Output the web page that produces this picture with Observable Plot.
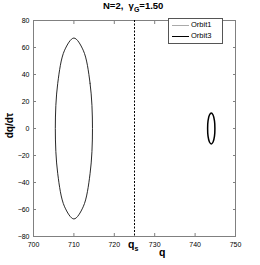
<!DOCTYPE html>
<html><head><meta charset="utf-8">
<script src="https://cdn.jsdelivr.net/npm/d3@7"></script>
<script src="https://cdn.jsdelivr.net/npm/@observablehq/plot@0.6"></script>
<style>
body{margin:0;background:#fff;font-family:"Liberation Sans",Arial,sans-serif;}
#wrap{position:relative;width:260px;height:265px;overflow:hidden;}
.lbl{position:absolute;font-weight:bold;color:#000;white-space:nowrap;}
#legend{position:absolute;left:168px;top:18px;width:53px;height:24px;border:1px solid #555;background:#fff;font-size:7.5px;color:#000;}
#legend div{position:absolute;left:3px;height:10px;line-height:10px;}
#legend span.ln{display:inline-block;width:17px;height:0;vertical-align:middle;margin-right:2px;}
</style></head>
<body><div id="wrap"></div>
<script>
const xTicks = [700, 710, 720, 730, 740, 750];
const yTicks = [-80, -60, -40, -20, 0, 20, 40, 60, 80];
const qs = 725;
// Orbit points: [q, dq/dtau]
const orbitLarge = [[714.6,0],[714.0,33.5],[712.3,58],[710,67],[707.7,58],[706.0,33.5],[705.4,0],[706.0,-33.5],[707.7,-58],[710,-67],[712.3,-58],[714.0,-33.5]];
const orbitSmall = [[744.9,0],[744.8,5.7],[744.45,10],[744,11.5],[743.55,10],[743.2,5.7],[743.1,0],[743.2,-5.7],[743.55,-10],[744,-11.5],[744.45,-10],[744.8,-5.7]];
const series = ["Orbit1", "Orbit3"];

const toObj = a => a.map(([q, v]) => ({q, v}));
const L = toObj(orbitLarge), S = toObj(orbitSmall);

const chart = Plot.plot({
  width: 260, height: 265,
  marginLeft: 33, marginRight: 25, marginTop: 20, marginBottom: 29,
  style: {fontFamily: "Liberation Sans, Arial, sans-serif", fontSize: "7px", background: "#fff", color: "#000"},
  x: {domain: [700, 750], ticks: xTicks},
  y: {domain: [-80, 80], ticks: yTicks},
  marks: [
    Plot.frame({stroke: "#808080"}),
    Plot.axisX({anchor: "bottom", ticks: xTicks, tickSize: -3, tickPadding: 9, stroke: "#808080", label: null, fill: "#000"}),
    Plot.axisX({anchor: "top", ticks: xTicks, tickSize: -3, tickFormat: () => "", stroke: "#808080", label: null}),
    Plot.axisY({anchor: "left", ticks: yTicks, tickSize: -3, tickPadding: 7, stroke: "#808080", label: null, tickFormat: d => d < 0 ? "\u2212" + (-d) : String(d), fill: "#000"}),
    Plot.axisY({anchor: "right", ticks: yTicks, tickSize: -3, tickFormat: () => "", stroke: "#808080", label: null}),
    Plot.ruleX([qs], {stroke: "#000", strokeDasharray: "2,1.5", strokeWidth: 1}),
    Plot.line(L, {x: "q", y: "v", curve: "catmull-rom-closed", stroke: "#111", strokeWidth: 0.9}),
    Plot.line(S, {x: "q", y: "v", curve: "catmull-rom-closed", stroke: "#000", strokeWidth: 1.5})
  ]
});
const wrap = document.getElementById("wrap");
wrap.appendChild(chart);

function lbl(html, left, top, size, extra) {
  const d = document.createElement("div");
  d.className = "lbl"; d.innerHTML = html;
  d.style.left = left + "px"; d.style.top = top + "px"; d.style.fontSize = size + "px";
  if (extra) Object.assign(d.style, extra);
  wrap.appendChild(d);
  return d;
}
lbl("N=2,&nbsp;&nbsp;&gamma;<sub style='font-size:7px'>G</sub>=1.50", 103, 0, 9.5);
lbl("q<sub style='font-size:7px'>s</sub>", 128, 238, 10.5);
lbl("q", 159, 246, 10.5);
lbl("dq/d&tau;", -3, 120, 10, {transform: "rotate(-90deg)", transformOrigin: "center"});

const lg = document.createElement("div");
lg.id = "legend";
const colors = ["#aaa", "#000"];
lg.innerHTML = series.map((s, i) => `<div style="top:${1 + i * 11}px"><span class="ln" style="border-top:1px solid ${colors[i]}"></span>${s}</div>`).join("");
wrap.appendChild(lg);
</script></body></html>
